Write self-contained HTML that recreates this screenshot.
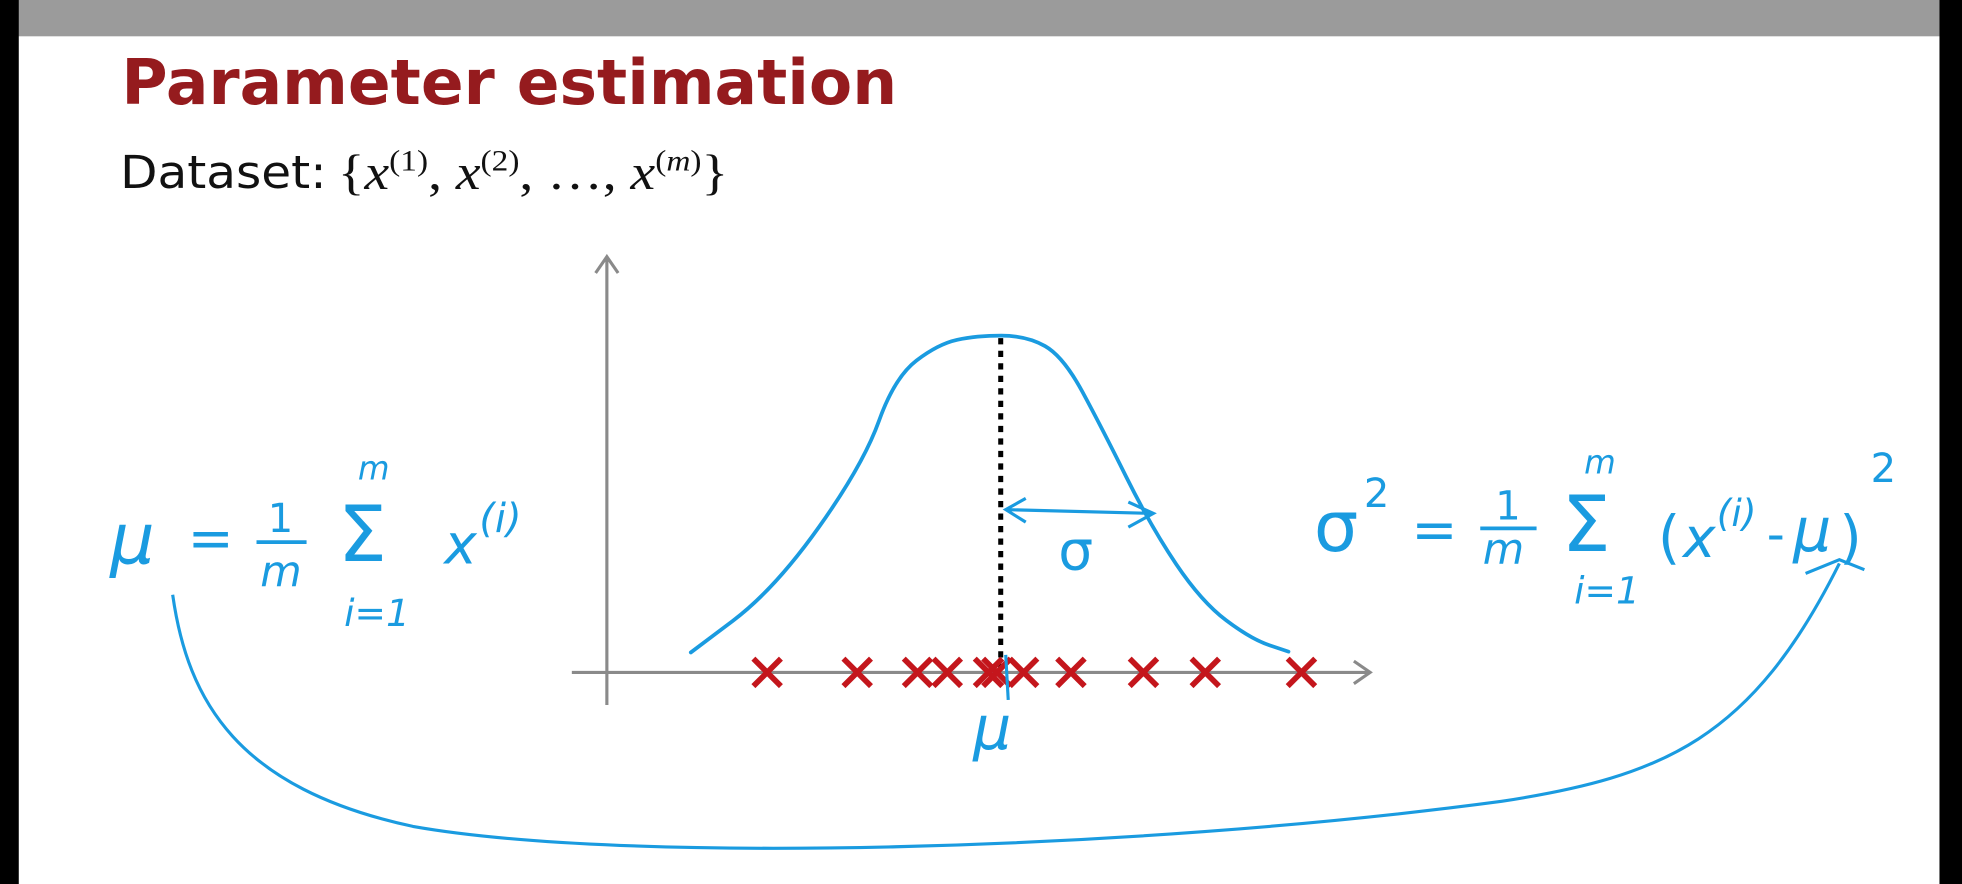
<!DOCTYPE html>
<html><head><meta charset="utf-8">
<style>
html,body{margin:0;padding:0;background:#fff;width:1962px;height:884px;overflow:hidden}
svg{display:block}
.hw{font-family:"DejaVu Sans","Liberation Sans",sans-serif;fill:#1a9be0}
</style></head>
<body>
<svg id="chart" width="1962" height="884" viewBox="0 0 1568 706" preserveAspectRatio="none" xmlns="http://www.w3.org/2000/svg">
  <rect x="0" y="0" width="1568" height="706" fill="#fff"/>
  <rect x="0" y="0" width="1568" height="29" fill="#9b9b9b"/>
  <rect x="0" y="0" width="15" height="706" fill="#000"/>
  <rect x="1550" y="0" width="18" height="706" fill="#000"/>
  <text x="97" y="83" font-family="'DejaVu Sans','Liberation Sans',sans-serif" font-weight="bold" font-size="50" fill="#951b1e" textLength="620" lengthAdjust="spacingAndGlyphs">Parameter estimation</text>
  <text x="96" y="150" font-family="'DejaVu Sans','Liberation Sans',sans-serif" font-size="36" fill="#111" textLength="165" lengthAdjust="spacingAndGlyphs">Dataset:</text>
  <text x="270" y="151" font-family="'Liberation Serif',serif" font-size="40" fill="#111" textLength="312" lengthAdjust="spacingAndGlyphs">{<tspan font-style="italic">x</tspan><tspan font-size="24" dy="-15">(1)</tspan><tspan dy="15">, </tspan><tspan font-style="italic">x</tspan><tspan font-size="24" dy="-15">(2)</tspan><tspan dy="15">, …, </tspan><tspan font-style="italic">x</tspan><tspan font-size="24" dy="-15">(<tspan font-style="italic">m</tspan>)</tspan><tspan dy="15">}</tspan></text>

  <g id="axes"></g>
  <g id="marks"></g>

  <g>
    <text class="hw" x="88" y="450" font-size="56" font-style="italic">μ</text>
    <text class="hw" x="150" y="445" font-size="44">=</text>
    <text class="hw" x="214" y="425" font-size="32">1</text>
    <line x1="205" y1="433" x2="245" y2="433" stroke="#1a9be0" stroke-width="3"/>
    <text class="hw" x="208" y="468" font-size="34" font-style="italic">m</text>
    <text class="hw" x="286" y="383" font-size="26" font-style="italic">m</text>
    <text class="hw" x="270" y="448" font-size="62">Σ</text>
    <text class="hw" x="275" y="500" font-size="30" font-style="italic">i=1</text>
    <text class="hw" x="355" y="450" font-size="44" font-style="italic">x</text>
    <text class="hw" x="383" y="425" font-size="32" font-style="italic">(i)</text>
  </g>
  <g>
    <text class="hw" x="1050" y="440" font-size="56">σ</text>
    <text class="hw" x="1090" y="405" font-size="32">2</text>
    <text class="hw" x="1128" y="438" font-size="44">=</text>
    <text class="hw" x="1195" y="415" font-size="32">1</text>
    <line x1="1183" y1="422" x2="1228" y2="422" stroke="#1a9be0" stroke-width="3"/>
    <text class="hw" x="1185" y="450" font-size="34" font-style="italic">m</text>
    <text class="hw" x="1266" y="378" font-size="26" font-style="italic">m</text>
    <text class="hw" x="1248" y="440" font-size="62">Σ</text>
    <text class="hw" x="1258" y="482" font-size="30" font-style="italic">i=1</text>
    <text class="hw" x="1325" y="445" font-size="46">(</text>
    <text class="hw" x="1345" y="445" font-size="44" font-style="italic">x</text>
    <text class="hw" x="1372" y="420" font-size="30" font-style="italic">(i)</text>
    <text class="hw" x="1412" y="440" font-size="40">-</text>
    <text class="hw" x="1433" y="440" font-size="48" font-style="italic">μ</text>
    <text class="hw" x="1470" y="445" font-size="46">)</text>
    <text class="hw" x="1495" y="385" font-size="32">2</text>
  </g>
  <path d="M138,475 C150,560 190,630 330,660 C500,690 900,680 1200,640 C1330,620 1400,590 1470,450" fill="none" stroke="#1a9be0" stroke-width="2.5"/>
  <path d="M1443,458 L1470,447 L1490,455" fill="none" stroke="#1a9be0" stroke-width="2.5"/>
</svg>
<script>
// data (x in data units 0..100 along the horizontal axis)
var sampleX = [21, 32.8, 40.7, 44.6, 50, 51.1, 54.6, 60.8, 70.3, 78.4, 91];
var curveX = [11, 22, 33.6, 37.7, 43.4, 48.4, 55, 59.8, 64.8, 71.3, 77.9, 84.4, 89.3];
var curveY = [4.8, 20, 50, 71, 79, 81, 81, 76, 59, 35, 17, 8, 5];
var meanX = 51.6;
var sigma = 20;

var X0 = 485, X1 = 1095, Y0 = 537, Y1 = 205;
function sx(v){ return X0 + (v/100)*(X1-X0); }
function sy(v){ return Y0 - (v/100)*(Y0-Y1); }
var NS = "http://www.w3.org/2000/svg";
var axes = document.getElementById('axes');
var marks = document.getElementById('marks');
function mk(tag, attrs, parent){ var e=document.createElementNS(NS,tag); for(var k in attrs) e.setAttribute(k,attrs[k]); parent.appendChild(e); return e; }

var xa = mk('path',{d:'M457,'+Y0+' L1095,'+Y0+' M1082,528 L1095,'+Y0+' L1082,546',fill:'none',stroke:'#8a8a8a','stroke-width':2.5},axes);


var ya = mk('path',{d:'M'+X0+',563 L'+X0+','+Y1+' M476,218 L'+X0+','+Y1+' L494,218',fill:'none',stroke:'#8a8a8a','stroke-width':2.5},axes);



var d = '';
for (var i=0;i<curveX.length;i++){
  var px=sx(curveX[i]), py=sy(curveY[i]);
  if(i===0) d='M'+px+','+py;
  else { var ppx=sx(curveX[i-1]), ppy=sy(curveY[i-1]); var mx=(ppx+px)/2, my=(ppy+py)/2; d+=' Q'+ppx+','+ppy+' '+mx+','+my; }
}
d += ' L'+sx(curveX[curveX.length-1])+','+sy(curveY[curveY.length-1]);
var c = mk('path',{d:d,fill:'none',stroke:'#1a9be0','stroke-width':3,'stroke-linecap':'round'},marks);



var peak = sy(Math.max.apply(null,curveY));
var ml = mk('line',{x1:sx(meanX),y1:peak+2,x2:sx(meanX),y2:Y0,stroke:'#000','stroke-width':4,'stroke-dasharray':'5,5'},marks);



var ay = 407;
var sa = mk('path',{d:'M'+(sx(meanX)+4)+','+ay+' L'+sx(meanX+sigma)+','+(ay+3)+' M'+(sx(meanX)+20)+','+(ay-9)+' L'+(sx(meanX)+4)+','+ay+' L'+(sx(meanX)+20)+','+(ay+10)+' M'+(sx(meanX+sigma)-20)+','+(ay-6)+' L'+sx(meanX+sigma)+','+(ay+3)+' L'+(sx(meanX+sigma)-20)+','+(ay+14),fill:'none',stroke:'#1a9be0','stroke-width':2.5},marks);


var st = mk('text',{x:sx(meanX+sigma/2)-15,y:ay+48,'font-size':44,'class':'hw'},marks);
st.textContent='σ';



sampleX.forEach(function(v){
  var px=sx(v), s=11;
  var g = mk('path',{d:'M'+(px-s)+','+(Y0-s)+' L'+(px+s)+','+(Y0+s)+' M'+(px+s)+','+(Y0-s)+' L'+(px-s)+','+(Y0+s),stroke:'#c4161c','stroke-width':4.5,fill:'none'},marks);
  
  
});

var mt = mk('line',{x1:sx(meanX)+4,y1:Y0-14,x2:sx(meanX)+6,y2:Y0+22,stroke:'#1a9be0','stroke-width':2.5},marks);


var mu = mk('text',{x:sx(meanX)-22,y:598,'font-size':48,'font-style':'italic','class':'hw'},marks);
mu.textContent='μ';


</script>
</body></html>
